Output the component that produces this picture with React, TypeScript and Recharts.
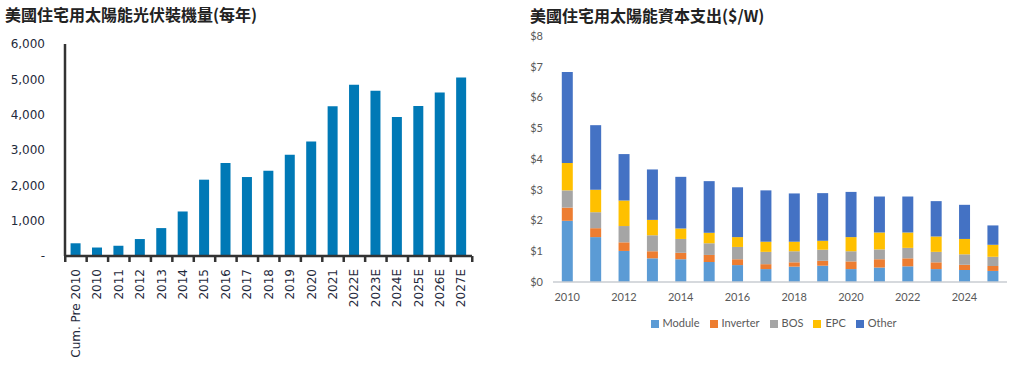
import { BarChart, Bar, XAxis, YAxis, Legend } from "recharts";

// 左圖：美國住宅用太陽能光伏裝機量 (MW)
const installYears = [
  "Cum. Pre 2010", "2010", "2011", "2012", "2013", "2014", "2015", "2016", "2017", "2018",
  "2019", "2020", "2021", "2022E", "2023E", "2024E", "2025E", "2026E", "2027E",
];
const installValues = [
  360, 240, 290, 480, 790, 1260, 2160, 2630, 2235, 2410,
  2865, 3240, 4235, 4845, 4676, 3935, 4245, 4628, 5050,
];
const installTicks = [0, 1000, 2000, 3000, 4000, 5000, 6000];

// 右圖：美國住宅用太陽能資本支出 ($/W)
const capexYears = [
  "2010", "2011", "2012", "2013", "2014", "2015", "2016", "2017",
  "2018", "2019", "2020", "2021", "2022", "2023", "2024", "2025",
];
const moduleCost = [1.99, 1.46, 1.01, 0.77, 0.74, 0.65, 0.55, 0.42, 0.5, 0.53, 0.42, 0.47, 0.51, 0.42, 0.39, 0.36];
const inverterCost = [0.43, 0.29, 0.28, 0.23, 0.21, 0.23, 0.19, 0.16, 0.14, 0.16, 0.25, 0.27, 0.26, 0.22, 0.17, 0.16];
const bosCost = [0.56, 0.52, 0.53, 0.52, 0.45, 0.38, 0.4, 0.4, 0.36, 0.36, 0.33, 0.32, 0.34, 0.34, 0.34, 0.3];
const epcCost = [0.89, 0.73, 0.83, 0.5, 0.34, 0.34, 0.32, 0.33, 0.31, 0.29, 0.46, 0.55, 0.5, 0.5, 0.5, 0.39];
const otherCost = [2.96, 2.1, 1.51, 1.64, 1.68, 1.68, 1.62, 1.67, 1.57, 1.55, 1.47, 1.17, 1.17, 1.15, 1.11, 0.63];
const capexTicks = [0, 1, 2, 3, 4, 5, 6, 7, 8];
const seriesNames = ["Module", "Inverter", "BOS", "EPC", "Other"];

const installData = installYears.map((year, i) => ({ year, value: installValues[i] }));

const capexData = capexYears.map((year, i) => ({
  year,
  module: moduleCost[i],
  inverter: inverterCost[i],
  bos: bosCost[i],
  epc: epcCost[i],
  other: otherCost[i],
}));

const leftFont = "DejaVu Sans, sans-serif";
const rightFont = "Lato, sans-serif";
const titleFont = "'Noto Sans CJK TC', sans-serif";
const axisColor = "#333333";
const TICK_GAP = 13;
// plot width of the left chart / number of categories
const LEFT_BAND = 407 / installYears.length;

// rotated label + tick marks on the category boundaries (Excel style)
function RotatedTick(props: any) {
  const { x, y, payload, index } = props;
  const axisY = y - TICK_GAP;
  const last = index === installYears.length - 1;
  return (
    <g>
      <rect x={x - LEFT_BAND / 2 - 1} y={axisY} width={2.5} height={6} fill={axisColor} />
      {last && <rect x={x + LEFT_BAND / 2 - 1} y={axisY} width={2.5} height={6} fill={axisColor} />}
      <text
        x={x}
        y={y}
        transform={`rotate(-90, ${x}, ${y})`}
        textAnchor="end"
        dy="0.35em"
        fill="#1f2a3c"
        fontSize={12}
        fontFamily={leftFont}
      >
        {payload.value}
      </text>
    </g>
  );
}

const titleStyle: React.CSSProperties = {
  position: "absolute",
  fontFamily: titleFont,
  fontWeight: 700,
  fontSize: 16,
  color: "#222",
  whiteSpace: "nowrap",
  lineHeight: "20px",
};

export default function App() {
  return (
    <div style={{ position: "absolute", left: 0, top: 0, width: 1015, height: 369, background: "#fff" }}>
      <div style={{ ...titleStyle, left: 5, top: 4 }}>美國住宅用太陽能光伏裝機量(每年)</div>
      <div style={{ ...titleStyle, left: 530, top: 5 }}>美國住宅用太陽能資本支出($/W)</div>

      <div style={{ position: "absolute", left: 0, top: 0 }}>
        <BarChart
          width={500}
          height={369}
          data={installData}
          margin={{ top: 44, right: 28, bottom: 0, left: 0 }}
          barCategoryGap="26%"
        >
          <XAxis
            dataKey="year"
            interval={0}
            height={113}
            stroke={axisColor}
            strokeWidth={2.5}
            axisLine
            tickLine={false}
            tickSize={0}
            tickMargin={TICK_GAP}
            tick={<RotatedTick />}
          />
          <YAxis
            domain={[0, 6000]}
            ticks={installTicks}
            width={65}
            stroke={axisColor}
            strokeWidth={2.5}
            axisLine
            tickLine={false}
            tickSize={0}
            tickMargin={20}
            tickFormatter={(v: number) => (v === 0 ? "-" : v.toLocaleString("en-US"))}
            tick={{ fill: "#1f2a3c", fontSize: 12, fontFamily: leftFont }}
          />
          <Bar dataKey="value" fill="#0079b6" isAnimationActive={false} />
        </BarChart>
      </div>

      <div style={{ position: "absolute", left: 510, top: 0 }}>
        <BarChart
          width={505}
          height={369}
          data={capexData}
          margin={{ top: 36, right: 8, bottom: 33, left: 0 }}
          barCategoryGap="31%"
        >
          <XAxis
            dataKey="year"
            interval={1}
            height={34}
            stroke="#c8ccd2"
            strokeWidth={1.5}
            tickLine={false}
            tickSize={0}
            tickMargin={11}
            tick={{ fill: "#595959", fontSize: 11, fontFamily: rightFont }}
          />
          <YAxis
            domain={[0, 8]}
            ticks={capexTicks}
            width={43}
            axisLine={false}
            tickLine={false}
            tickSize={0}
            tickMargin={10}
            tickFormatter={(v: number) => `$${v}`}
            tick={{ fill: "#595959", fontSize: 11, fontFamily: rightFont }}
          />
          <Legend
            verticalAlign="bottom"
            height={20}
            iconType="square"
            iconSize={8}
            itemSorter={(item: any) => seriesNames.indexOf(item.value)}
            wrapperStyle={{ fontSize: 11, fontFamily: rightFont, paddingLeft: 20 }}
            formatter={(v: string) => <span style={{ color: "#595959" }}>{v}</span>}
          />
          <Bar dataKey="module" name="Module" stackId="a" fill="#5b9bd5" isAnimationActive={false} />
          <Bar dataKey="inverter" name="Inverter" stackId="a" fill="#ed7d31" isAnimationActive={false} />
          <Bar dataKey="bos" name="BOS" stackId="a" fill="#a5a5a5" isAnimationActive={false} />
          <Bar dataKey="epc" name="EPC" stackId="a" fill="#ffc000" isAnimationActive={false} />
          <Bar dataKey="other" name="Other" stackId="a" fill="#4472c4" isAnimationActive={false} />
        </BarChart>
      </div>
    </div>
  );
}
